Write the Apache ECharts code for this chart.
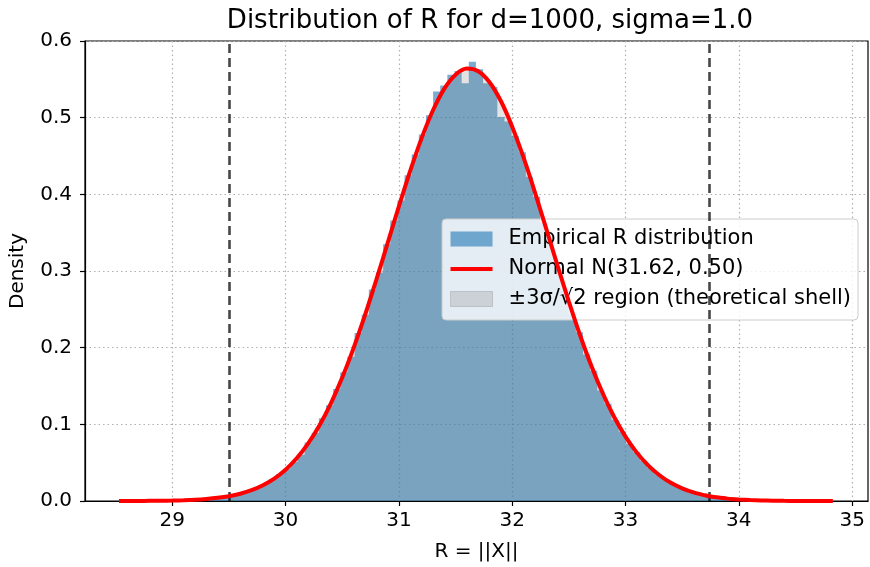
<!DOCTYPE html>
<html>
<head>
<meta charset="utf-8">
<script src="https://cdn.jsdelivr.net/npm/echarts@6/dist/echarts.min.js"></script>
<style>
  html, body { margin: 0; padding: 0; background: #fff; }
  #chart { width: 870px; height: 567px; }
</style>
</head>
<body>
<div id="chart"></div>
<script>
// histogram: 100 bins of equal width starting at binStart
var binStart = 28.53;
var binWidth = 0.063;
var density = [
  0.0016, 0, 0, 0, 0, 0, 0.0016, 0, 0.0016, 0.0016,
  0.0016, 0.0032, 0.0032, 0.0032, 0.0048, 0.0063, 0.0079, 0.0111, 0.0143, 0.0175,
  0.0222, 0.0286, 0.0349, 0.0420, 0.0508, 0.0603, 0.0762, 0.0889, 0.108, 0.125,
  0.146, 0.168, 0.188, 0.219, 0.243, 0.276, 0.298, 0.335, 0.366, 0.392,
  0.425, 0.452, 0.478, 0.503, 0.534, 0.542, 0.556, 0.561, 0.545, 0.573,
  0.563, 0.545, 0.540, 0.501, 0.495, 0.476, 0.455, 0.423, 0.397, 0.363,
  0.337, 0.302, 0.277, 0.244, 0.220, 0.191, 0.170, 0.144, 0.127, 0.106,
  0.0905, 0.0746, 0.0635, 0.0524, 0.0429, 0.0349, 0.0286, 0.0222, 0.0175, 0.0143,
  0.0111, 0.0079, 0.0063, 0.0048, 0.0032, 0.0032, 0.0016, 0.0016, 0.0016, 0,
  0.0016, 0, 0, 0, 0, 0, 0, 0, 0, 0.0016
];

// normal curve
var curveX = [
  28.53, 28.6, 28.7, 28.8, 28.9, 29.0, 29.1, 29.2, 29.3, 29.4,
  29.5, 29.6, 29.7, 29.8, 29.9, 30.0, 30.1, 30.2, 30.3, 30.4,
  30.5, 30.6, 30.7, 30.8, 30.9, 31.0, 31.1, 31.2, 31.3, 31.4,
  31.5, 31.6, 31.7, 31.8, 31.9, 32.0, 32.1, 32.2, 32.3, 32.4,
  32.5, 32.6, 32.7, 32.8, 32.9, 33.0, 33.1, 33.2, 33.3, 33.4,
  33.5, 33.6, 33.7, 33.74, 33.8, 33.9, 34.0, 34.1, 34.2, 34.3,
  34.4, 34.5, 34.6, 34.7, 34.83
];
var curveY = [
  0.00004, 0.00006, 0.0001, 0.0002, 0.00035, 0.0006, 0.001, 0.0016, 0.0026, 0.0041,
  0.0063, 0.0095, 0.0141, 0.0206, 0.0293, 0.0409, 0.0560, 0.0752, 0.0988, 0.1274,
  0.1610, 0.1994, 0.2420, 0.2880, 0.3360, 0.3842, 0.4306, 0.4730, 0.5093, 0.5376,
  0.5561, 0.5640, 0.5606, 0.5462, 0.5217, 0.4883, 0.4481, 0.4030, 0.3553, 0.3070,
  0.2601, 0.2159, 0.1757, 0.1402, 0.1096, 0.0840, 0.0631, 0.0465, 0.0336, 0.0237,
  0.0165, 0.0112, 0.0075, 0.0062, 0.0049, 0.0031, 0.0020, 0.0012, 0.0007, 0.0004,
  0.0002, 0.00014, 0.00008, 0.00004, 0.00002
];

var shellLow = 29.50;
var shellHigh = 33.74;
var xTicks = [29, 30, 31, 32, 33, 34, 35];

var fontName = 'DejaVu Sans';

// step points for the histogram area
var histPts = density.map(function (v, i) { return [binStart + i * binWidth, v]; });
histPts.push([binStart + density.length * binWidth, density[density.length - 1]]);

var curvePts = curveX.map(function (x, i) { return [x, curveY[i]]; });
var shellPts = curvePts.filter(function (p) { return p[0] >= shellLow && p[0] <= shellHigh; });

var chart = echarts.init(document.getElementById('chart'), null, { renderer: 'canvas' });

var option = {
    animation: false,
    backgroundColor: '#fff',
    textStyle: { fontFamily: fontName },
    title: {
        text: 'Distribution of R for d=1000, sigma=1.0',
        left: 485,
        textAlign: 'center',
        top: 3,
        textStyle: { fontFamily: fontName, fontSize: 26, fontWeight: 'normal', color: '#000' }
    },
    grid: {
        left: 85, right: 2, top: 41, bottom: 66,
        outerBoundsMode: 'none',
        containLabel: false,
        show: true, borderColor: '#000', borderWidth: 1.2
    },
    legend: {
        orient: 'vertical',
        right: 12,
        top: 219,
        padding: [9, 7, 10, 8],
        itemGap: 8,
        itemWidth: 42,
        itemHeight: 15,
        backgroundColor: 'rgba(255,255,255,0.8)',
        borderColor: '#cccccc',
        borderWidth: 1,
        borderRadius: 4,
        textStyle: { fontFamily: fontName, fontSize: 21, color: '#000', lineHeight: 22, padding: [0, 0, 0, 11] },
        data: [
            { name: 'Empirical R distribution', icon: 'rect', itemStyle: { color: 'rgba(31,119,180,0.6)' } },
            { name: 'Normal N(31.62, 0.50)', icon: 'path://M0,0H42V4H0Z', itemStyle: { color: '#ff0000' } },
            { name: '±3σ/√2 region (theoretical shell)', icon: 'rect',
              itemStyle: { color: 'rgba(128,128,128,0.25)', borderColor: 'rgba(128,128,128,0.3)', borderWidth: 1 } }
        ]
    },
    xAxis: {
        type: 'value',
        min: 28.23,
        max: 35.14,
        name: 'R = ||X||',
        nameLocation: 'middle',
        nameGap: 41,
        nameTextStyle: { fontFamily: fontName, fontSize: 20, color: '#000' },
        axisLine: { show: true, lineStyle: { color: '#000', width: 1.2 } },
        axisTick: { show: true, customValues: xTicks, length: 5, lineStyle: { color: '#000', width: 1.2 } },
        axisLabel: { customValues: xTicks, margin: 10, fontFamily: fontName, fontSize: 20, color: '#000' },
        splitLine: { show: true, lineStyle: { color: '#b0b0b0', type: [1.5, 3], width: 1.2 } }
    },
    yAxis: {
        type: 'value',
        min: 0,
        max: 0.6,
        interval: 0.1,
        name: 'Density',
        nameLocation: 'middle',
        nameGap: 57,
        nameTextStyle: { fontFamily: fontName, fontSize: 20, color: '#000' },
        axisLine: { show: true, lineStyle: { color: '#000', width: 1.2 } },
        axisTick: { show: true, length: 5, lineStyle: { color: '#000', width: 1.2 } },
        axisLabel: {
            margin: 13, fontFamily: fontName, fontSize: 20, color: '#000',
            formatter: function (v) { return v.toFixed(1); }
        },
        splitLine: { show: true, lineStyle: { color: '#b0b0b0', type: [1.5, 3], width: 1.2 } }
    },
    series: [
        {
            name: 'Empirical R distribution',
            type: 'line',
            step: 'end',
            data: histPts,
            symbol: 'none',
            z: 2,
            itemStyle: { color: 'rgba(31,119,180,0.6)' },
            lineStyle: { width: 0, opacity: 0 },
            areaStyle: { color: 'rgba(31,119,180,0.6)', opacity: 1 }
        },
        {
            name: '±3σ/√2 region (theoretical shell)',
            type: 'line',
            data: shellPts,
            smooth: 0.3,
            symbol: 'none',
            z: 3,
            itemStyle: { color: 'rgba(128,128,128,0.25)' },
            lineStyle: { width: 0, opacity: 0 },
            areaStyle: { color: 'rgba(128,128,128,0.22)', opacity: 1 }
        },
        {
            name: 'Normal N(31.62, 0.50)',
            type: 'line',
            data: curvePts,
            smooth: 0.3,
            symbol: 'none',
            z: 5,
            itemStyle: { color: '#ff0000' },
            lineStyle: { color: '#ff0000', width: 4 },
            markLine: {
                silent: true,
                symbol: 'none',
                label: { show: false },
                lineStyle: { color: 'rgba(0,0,0,0.72)', type: [9, 5], width: 2.6 },
                data: [{ xAxis: shellLow }, { xAxis: shellHigh }]
            }
        }
    ]
};

chart.setOption(option);
</script>
</body>
</html>
